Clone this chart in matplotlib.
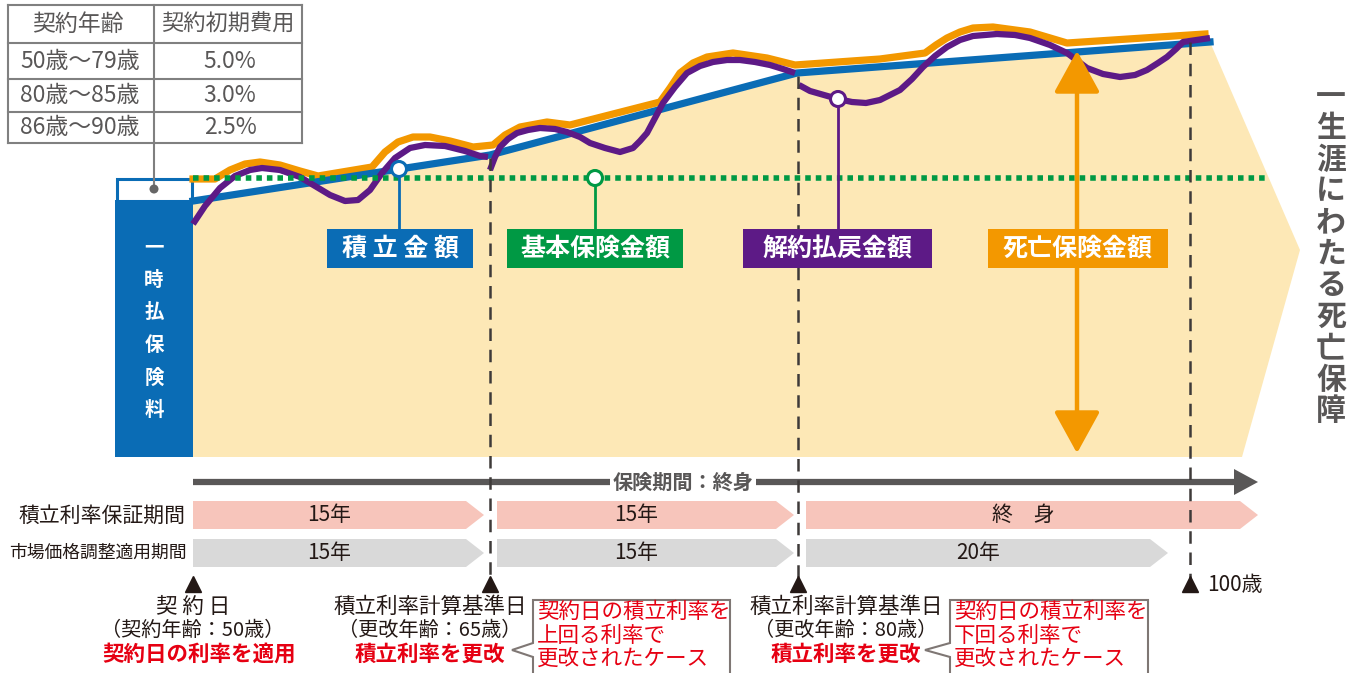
"""Schematic of a single-premium whole-life policy: accumulated value, surrender value and death benefit."""
import matplotlib
matplotlib.use('Agg')
from matplotlib import pyplot
from matplotlib.patches import Polygon, Rectangle, Circle, FancyArrowPatch

pyplot.rcParams['font.family'] = ['Noto Sans CJK JP', 'DejaVu Sans']

# table of initial contract costs
table_header = ['契約年齢', '契約初期費用']
table_ages = ['50歳～79歳', '80歳～85歳', '86歳～90歳']
table_rates = ['5.0%', '3.0%', '2.5%']

# accumulated value (blue)
blue_x = [193, 490, 797, 1210]
blue_y = [201, 155, 73, 42]

# death benefit (orange)
orange_x = [193, 215, 230, 245, 260, 280, 300, 318, 372, 385, 398, 413, 430, 450, 473, 493,
            505, 520, 547, 570, 660, 670, 680, 693, 707, 733, 767, 795, 880, 925, 936, 947,
            960, 973, 993, 1030, 1067, 1205]
orange_y = [179, 179, 170, 164, 162, 165, 171, 176, 167, 152, 142, 137, 137, 141, 147, 145,
            135, 127, 122, 125, 102, 88, 73, 63, 57, 53, 58, 65, 59, 53, 45, 38,
            32, 28, 27, 32, 43, 34]

# surrender value (purple), three pieces either side of each rate reset
purple1_x = [193, 205, 220, 235, 250, 262, 280, 300, 315, 330, 345, 358, 370, 382, 395, 410,
             425, 445, 465, 480, 488]
purple1_y = [224, 206, 188, 176, 170, 168, 170, 177, 186, 195, 201, 200, 190, 173, 158, 148,
             145, 146, 151, 156, 157]
purple2_x = [490, 495, 500, 508, 517, 528, 540, 555, 567, 580, 590, 605, 620, 633, 640, 647,
             655, 663, 675, 687, 700, 713, 727, 740, 755, 770, 783, 795]
purple2_y = [170, 157, 147, 139, 133, 130, 128, 129, 132, 137, 143, 148, 152, 148, 141, 133,
             118, 103, 87, 73, 66, 62, 60, 60, 62, 65, 69, 73]
purple3_x = [799, 810, 824, 838, 852, 866, 880, 900, 912, 923, 935, 947, 960, 973, 997, 1015,
             1030, 1050, 1067, 1087, 1103, 1120, 1135, 1147, 1158, 1167, 1176, 1183, 1210]
purple3_y = [85, 91, 95, 99, 102, 103, 100, 90, 79, 67, 56, 47, 40, 36, 34, 35,
             38, 45, 53, 68, 74, 77, 75, 70, 63, 57, 49, 42, 38]

basic_amount_y = 178   # guaranteed basic amount (green dotted)

band_guarantee = ['15年', '15年', '終　身']
band_mva = ['15年', '15年', '20年']

blue = '#0a6cb5'
orange = '#f39800'
purple = '#5d1a86'
green = '#009944'
beige = '#fde8b6'
dark = '#3e3a39'
grey_text = '#595757'
red = '#e60012'

figure = pyplot.figure(figsize=(13.6, 6.73), dpi=100)
axes = figure.add_axes([0, 0, 1, 1])
axes.set_xlim(0, 1360)
axes.set_ylim(673, 0)
axes.axis('off')

# beige area under the accumulated value, ending in an arrow shape
outline = list(zip(blue_x, blue_y)) + [(1300, 250), (1242, 457), (193, 457)]
axes.add_patch(Polygon(outline, closed=True, facecolor=beige, edgecolor='none', zorder=1))

# single premium box
axes.add_patch(Rectangle((115, 200), 78, 257, facecolor=blue, edgecolor='none', zorder=2))
axes.add_patch(Rectangle((116.5, 178.5), 75, 22, facecolor='white', edgecolor=blue,
                         linewidth=2.2, zorder=2))
for i, ch in enumerate('一時払保険料'):
    axes.text(154, 248 + i * 32.5, ch, color='white', fontsize=14, fontweight='bold',
              ha='center', va='center', zorder=3)

# table
for y in [5, 43, 79, 112, 143]:
    axes.plot([8, 302], [y, y], color='#808080', linewidth=1.5, zorder=2)
for x in [8, 154, 302]:
    axes.plot([x, x], [5, 143], color='#808080', linewidth=1.5, zorder=2)
axes.text(78, 24, table_header[0], color=grey_text, fontsize=16.5, ha='center', va='center')
axes.text(228, 24, table_header[1], color=grey_text, fontsize=16, ha='center', va='center')
for i, (age, rate) in enumerate(zip(table_ages, table_rates)):
    y = [61, 96, 128][i]
    axes.text(80, y, age, color=grey_text, fontsize=16.5, ha='center', va='center')
    axes.text(230, y, rate, color=grey_text, fontsize=16.5, ha='center', va='center')
axes.plot([154, 154], [143, 189], color='#7f7f7f', linewidth=1.5, zorder=3)
axes.add_patch(Circle((154, 189), 4.5, facecolor='#666666', edgecolor='none', zorder=4))

# value lines
axes.plot(orange_x, orange_y, color=orange, linewidth=5.2, solid_joinstyle='round', zorder=4)
axes.plot(blue_x, blue_y, color=blue, linewidth=5.2, zorder=5)
for xs, ys in [(purple1_x, purple1_y), (purple2_x, purple2_y), (purple3_x, purple3_y)]:
    axes.plot(xs, ys, color=purple, linewidth=4.5, solid_capstyle='butt',
              solid_joinstyle='round', zorder=6)
axes.plot([193, 1268], [basic_amount_y, basic_amount_y], color=green, linewidth=4,
          linestyle=(0, (1, 0.9)), dash_capstyle='butt', zorder=7)

# reset dates (dashed)
for x, top in [(490, 158), (798, 76), (1190, 42)]:
    axes.plot([x, x], [top, 578], color=dark, linewidth=1.8, linestyle=(0, (5, 3.5)), zorder=8)

# labels with pointer circles
labels = [('積 立 金 額', blue, 327, 473, 399, 169),
          ('基本保険金額', green, 507, 683, 595, 178),
          ('解約払戻金額', purple, 743, 932, 838, 99)]
for text, colour, x0, x1, cx, cy in labels:
    axes.plot([cx, cx], [cy, 230], color=colour, linewidth=2, zorder=8)
    axes.add_patch(Circle((cx, cy), 7.5, facecolor='white', edgecolor=colour,
                          linewidth=2.2, zorder=9))
boxes = [(l[0], l[1], l[2], l[3]) for l in labels] + [('死亡保険金額', orange, 988, 1168)]
for text, colour, x0, x1 in boxes:
    axes.add_patch(Rectangle((x0, 229), x1 - x0, 39, facecolor=colour, edgecolor='none', zorder=9))
    axes.text((x0 + x1) / 2, 249, text, color='white', fontsize=18, fontweight='bold',
              ha='center', va='center', zorder=10)

# death benefit arrow
axes.add_patch(FancyArrowPatch((1077, 48), (1077, 456), arrowstyle='<|-|>,head_length=1.0,head_width=0.55',
                               mutation_scale=26, color=orange, linewidth=3.2, zorder=8))

# right side caption
for i, ch in enumerate('一生涯にわたる死亡保障'):
    axes.text(1331, 97 + i * 31.4, ch, color=grey_text, fontsize=21.5, fontweight='bold',
              ha='center', va='center')

# insurance period arrow
axes.plot([193, 1238], [482, 482], color=grey_text, linewidth=4.5, solid_capstyle='butt', zorder=3)
axes.add_patch(Polygon([(1234, 469), (1258, 482), (1234, 495)], closed=True,
                       facecolor=grey_text, edgecolor='none', zorder=3))
axes.text(683, 482, '保険期間：終身', color=grey_text, fontsize=14.5, fontweight='bold',
          ha='center', va='center', zorder=4,
          bbox=dict(facecolor='white', edgecolor='none', pad=2))

# period bands
segments = [(193, 484), (497, 794), (806, 1258)]
for (x0, x1), text in zip(segments, band_guarantee):
    axes.add_patch(Polygon([(x0, 501), (x1 - 18, 501), (x1, 515), (x1 - 18, 529), (x0, 529)],
                           closed=True, facecolor='#f7c5bb', edgecolor='none', zorder=2))
    axes.text((x0 + x1 - 18) / 2, 515, text, color='#231815', fontsize=15, ha='center', va='center', zorder=3)
segments = [(193, 484), (497, 794), (806, 1168)]
for (x0, x1), text in zip(segments, band_mva):
    axes.add_patch(Polygon([(x0, 539), (x1 - 18, 539), (x1, 553), (x1 - 18, 567), (x0, 567)],
                           closed=True, facecolor='#d9d9d9', edgecolor='none', zorder=2))
    axes.text((x0 + x1 - 18) / 2, 553, text, color='#231815', fontsize=15, ha='center', va='center', zorder=3)
axes.text(186, 516, '積立利率保証期間', color='#231815', fontsize=15, ha='right', va='center')
axes.text(187, 553, '市場価格調整適用期間', color='#231815', fontsize=12.8, ha='right', va='center')

# milestones
for x in [193, 490, 798, 1190]:
    axes.plot([x], [584], marker='^', markersize=12, color='#231815', linestyle='none', zorder=9)
axes.text(1207, 585, '100歳', color='#231815', fontsize=15, ha='left', va='center')

axes.text(193, 607, '契 約 日', color='#231815', fontsize=15.5, ha='center', va='center')
axes.text(193, 630, '（契約年齢：50歳）', color='#231815', fontsize=14.5, ha='center', va='center')
axes.text(199, 654, '契約日の利率を適用', color=red, fontsize=15.5, fontweight='bold', ha='center', va='center')

for x, age in [(430, '65'), (846, '80')]:
    axes.text(x, 607, '積立利率計算基準日', color='#231815', fontsize=15.5, ha='center', va='center')
    axes.text(x, 630, '（更改年齢：' + age + '歳）', color='#231815', fontsize=14.5, ha='center', va='center')
    axes.text(x, 654, '積立利率を更改', color=red, fontsize=15.5, fontweight='bold', ha='center', va='center')

# callouts
callouts = [(533, 730, 512, ['契約日の積立利率を', '上回る利率で', '更改されたケース']),
            (950, 1148, 925, ['契約日の積立利率を', '下回る利率で', '更改されたケース'])]
for x0, x1, tip, lines in callouts:
    axes.add_patch(Polygon([(x0, 600), (x1, 600), (x1, 690), (x0, 690), (x0, 657), (tip, 650), (x0, 643)],
                           closed=True, facecolor='white', edgecolor='#7f7774', linewidth=1.5, zorder=3))
    for i, line in enumerate(lines):
        axes.text(x0 + 4, 612 + i * 24, line, color=red, fontsize=15.5, ha='left', va='center', zorder=4)

figure.savefig('out.png', dpi=100)
